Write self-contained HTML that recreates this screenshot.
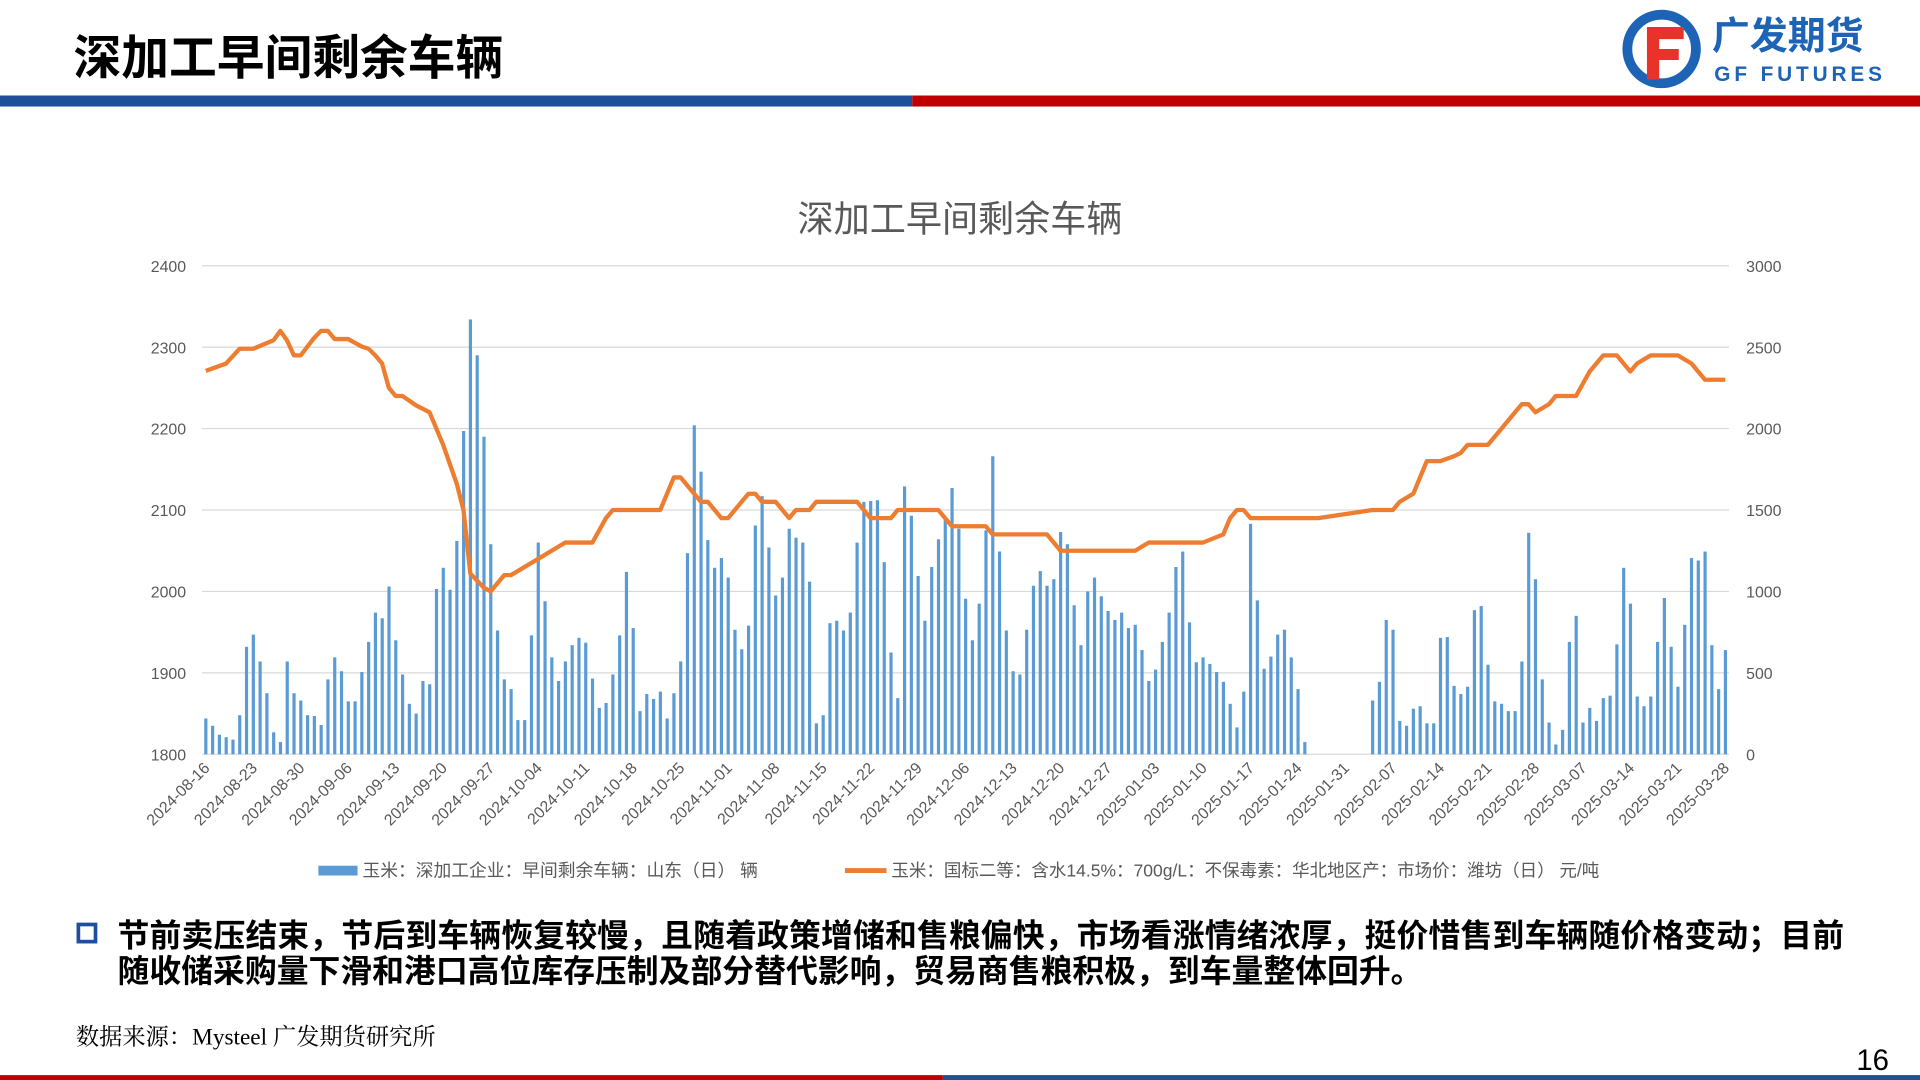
<!DOCTYPE html>
<html><head><meta charset="utf-8"><style>
html,body{margin:0;padding:0;background:#fff;}
svg{display:block;}
text{font-family:"Liberation Sans","Noto Sans CJK SC",sans-serif;}
</style></head><body>
<svg id="s" width="1920" height="1080" viewBox="0 0 1568 882" xmlns="http://www.w3.org/2000/svg">
<text x="60" y="61" font-size="39" font-weight="bold" fill="#000">深加工早间剩余车辆</text>
<rect x="0" y="78" width="745" height="9" fill="#1f4e9a"/>
<rect x="745" y="78" width="823" height="9" fill="#c00000"/>
<g>
<circle cx="1357" cy="40" r="28" fill="none" stroke="#1d63b6" stroke-width="8"/>
<path d="M1345 22 h30 v10 h-20 v8 h16 v9 h-16 v16 h-10z" fill="#e8322a"/>
<text x="1398" y="40" font-size="31" font-weight="bold" fill="#1d63b6">广发期货</text>
<text x="1400" y="66" font-size="17" font-weight="bold" fill="#1d63b6" textLength="137">GF FUTURES</text>
</g>
<text x="784" y="189" font-size="29.5" fill="#595959" text-anchor="middle">深加工早间剩余车辆</text>
<g id="chart"></g>
<g>
<rect x="260" y="707" width="32" height="8" fill="#5b9bd5"/>
<text x="296" y="716" font-size="14.5" fill="#595959">玉米：深加工企业：早间剩余车辆：山东（日） 辆</text>
<line x1="690" y1="711" x2="724" y2="711" stroke="#ed7d31" stroke-width="4"/>
<text x="728" y="716" font-size="14.3" fill="#595959">玉米：国标二等：含水14.5%：700g/L：不保毒素：华北地区产：市场价：潍坊（日） 元/吨</text>
</g>
<rect x="64" y="755" width="14" height="14" fill="none" stroke="#1f4e9a" stroke-width="3"/>
<text x="96" y="773" font-size="26" font-weight="bold" fill="#000" textLength="1410">节前卖压结束，节后到车辆恢复较慢，且随着政策增储和售粮偏快，市场看涨情绪浓厚，挺价惜售到车辆随价格变动；目前</text>
<text x="96" y="802" font-size="26" font-weight="bold" fill="#000">随收储采购量下滑和港口高位库存压制及部分替代影响，贸易商售粮积极，到车量整体回升。</text>
<text x="62" y="853" font-size="19" fill="#000" style="font-family:'Liberation Serif','Noto Serif CJK SC',serif">数据来源：Mysteel 广发期货研究所</text>
<text x="1516" y="874" font-size="24" fill="#000">16</text>
<rect x="0" y="878" width="770" height="4" fill="#c00000"/>
<rect x="770" y="878" width="798" height="4" fill="#1f4e9a"/>
</svg>
<script>
const leftTicks=[1800,1900,2000,2100,2200,2300,2400];
const rightTicks=[0,500,1000,1500,2000,2500,3000];
const dateLabels=["2024-08-16","2024-08-23","2024-08-30","2024-09-06","2024-09-13","2024-09-20","2024-09-27","2024-10-04","2024-10-11","2024-10-18","2024-10-25","2024-11-01","2024-11-08","2024-11-15","2024-11-22","2024-11-29","2024-12-06","2024-12-13","2024-12-20","2024-12-27","2025-01-03","2025-01-10","2025-01-17","2025-01-24","2025-01-31","2025-02-07","2025-02-14","2025-02-21","2025-02-28","2025-03-07","2025-03-14","2025-03-21","2025-03-28"];
const barValues=[1844,1835,1824,1821,1818,1848,1932,1947,1914,1875,
1827,1815,1914,1875,1866,1848,1847,1836,1892,1919,
1902,1865,1865,1901,1938,1974,1967,2006,1940,1898,
1862,1850,1890,1886,2003,2029,2002,2062,2197,2334,
2290,2190,2058,1952,1892,1880,1842,1842,1946,2060,
1988,1919,1890,1914,1934,1943,1937,1893,1857,1863,
1898,1946,2024,1955,1853,1874,1868,1877,1844,1875,
1914,2047,2204,2147,2063,2029,2041,2017,1953,1929,
1958,2081,2117,2054,1995,2017,2077,2066,2060,2012,
1838,1848,1961,1964,1952,1974,2060,2110,2111,2112,
2036,1925,1869,2129,2093,2019,1964,2030,2064,2088,
2127,2077,1991,1940,1985,2075,2166,2049,1952,1902,
1898,1953,2007,2025,2007,2015,2073,2058,1983,1934,
2000,2017,1994,1976,1965,1974,1955,1959,1928,1890,
1904,1938,1974,2030,2049,1962,1913,1919,1911,1901,
1889,1862,1833,1877,2083,1989,1905,1920,1947,1953,
1919,1880,1815,
null,null,null,null,null,null,null,null,null,
1866,1889,1965,1953,1841,1835,1856,1859,1838,1838,
1943,1944,1884,1874,1883,1977,1982,1910,1865,1862,
1853,1853,1914,2072,2015,1892,1839,1812,1830,1938,
1970,1839,1857,1841,1869,1872,1935,2029,1985,1871,
1859,1871,1938,1992,1932,1883,1959,2041,2038,2049,
1934,1880,1928];
const lineDays=[0,3,5,7,10,11,12,13,14,16,17,18,19,21,23,24,25,26,27,28,29,31,33,35,37,38,39,41,42,44,45,49,53,57,59,60,67,69,70,72,73,74,76,77,79,80,81,82,84,86,87,89,90,96,98,101,102,108,110,115,116,124,126,137,139,147,150,151,152,153,154,164,172,175,176,178,180,182,184,185,186,189,191,193,194,195,196,198,199,202,204,206,208,210,211,213,217,219,220,221,224];
const lineValues=[2354,2399,2490,2490,2542,2600,2540,2450,2450,2557,2600,2600,2550,2550,2504,2490,2450,2400,2250,2200,2200,2143,2100,1900,1662,1500,1110,1023,1000,1100,1100,1200,1300,1300,1450,1500,1500,1700,1700,1600,1550,1550,1450,1450,1550,1600,1600,1550,1550,1450,1500,1500,1550,1550,1450,1450,1500,1500,1400,1400,1350,1350,1250,1250,1300,1300,1350,1450,1500,1500,1450,1450,1500,1500,1550,1600,1800,1800,1830,1850,1900,1900,2000,2100,2150,2150,2100,2150,2200,2200,2350,2450,2450,2350,2400,2450,2450,2400,2350,2300,2300];

const NS="http://www.w3.org/2000/svg";
const g=document.getElementById('chart');
const X0=168,X1=1409,Y0=616,Y1=217,NDAYS=224;
const xDay=d=>X0+(X1-X0)*d/NDAYS;
const yL=v=>Y0-(v-1800)/600*(Y0-Y1);
const yR=v=>Y0-v/3000*(Y0-Y1);
function mk(t,a){const e=document.createElementNS(NS,t);for(const k in a)e.setAttribute(k,a[k]);g.appendChild(e);return e;}
leftTicks.forEach((v,i)=>{
  const l=mk('line',{x1:165,x2:1412,y1:yL(v),y2:yL(v),stroke:'#d9d9d9','stroke-width':1});
  
  
  const t=mk('text',{x:152,y:yL(v)+5,'font-size':13,fill:'#595959','text-anchor':'end'});
  t.textContent=v;
  
  
});
rightTicks.forEach(v=>{
  const t=mk('text',{x:1426,y:yR(v)+5,'font-size':13,fill:'#595959'});
  t.textContent=v;
  
  
});
barValues.forEach((v,i)=>{
  if(v==null)return;
  const r=mk('rect',{x:xDay(i)-1.2,y:yL(v),width:2.6,height:Y0-yL(v),fill:'#5b9bd5'});
  
  
});
const pts=lineDays.map((d,i)=>xDay(d).toFixed(1)+','+yR(lineValues[i]).toFixed(1)).join(' ');
const pl=mk('polyline',{points:pts,fill:'none',stroke:'#ed7d31','stroke-width':3.5,'stroke-linejoin':'round'});


dateLabels.forEach((s,i)=>{
  const x=xDay(i*7),y=628;
  const t=mk('text',{x:x+4,y:y,'font-size':13,fill:'#595959','text-anchor':'end',transform:`rotate(-45 ${x+4} ${y})`});
  t.textContent=s;
  
  
});
</script>
</body></html>
